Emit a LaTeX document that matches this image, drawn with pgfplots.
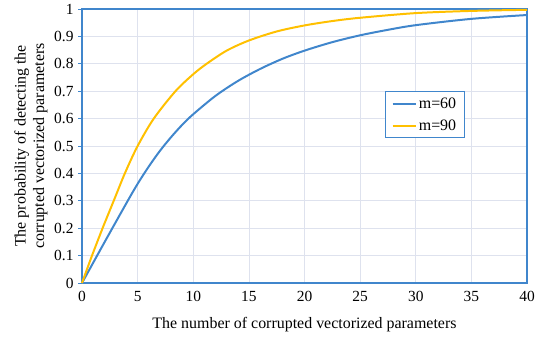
\documentclass[border=0pt]{standalone}
\usepackage{pgfplots}
\pgfplotsset{compat=1.18}
\usepackage{fontspec}
\setmainfont{Liberation Serif}
\definecolor{cblue}{RGB}{64,134,204}
\definecolor{cyel}{RGB}{255,192,0}
\definecolor{cgrid}{RGB}{222,226,238}
\begin{document}
\begin{tikzpicture}
\begin{axis}[
  scale only axis,
  width=445bp, height=274bp,
  xmin=0, xmax=40, ymin=0, ymax=1,
  clip=false,
  xtick={0,5,...,40},
  ytick={0,0.1,...,1},
  yticklabels={0,0.1,0.2,0.3,0.4,0.5,0.6,0.7,0.8,0.9,1},
  /pgf/number format/assume math mode=true,
  grid=major,
  major grid style={cgrid, line width=0.6pt},
  axis line style={cblue, line width=1.1pt},
  xtick style={draw=none},
  ytick style={draw=cblue, line width=0.8pt},
  ytick pos=left, tick align=outside, major tick length=4bp,
  tick label style={font=\fontsize{15.5}{17}\selectfont},
  xticklabel style={yshift=-1bp},
  yticklabel style={xshift=-1bp},
  label style={font=\fontsize{16}{18.5}\selectfont},
  xlabel={The number of corrupted vectorized parameters},
  ylabel={The probability of detecting the\\corrupted vectorized parameters},
  ylabel style={align=center, at={(axis description cs:-0.1146,0.5)}, anchor=center},
  xlabel style={at={(axis description cs:0.5,-0.153)}, anchor=center},
  legend style={at={(axis description cs:0.681,0.700)}, anchor=north west, draw=cblue, font=\fontsize{16}{18}\selectfont, row sep=6pt, inner xsep=6pt, inner ysep=4pt, line width=0.8pt},
  legend image code/.code={\draw[#1, line width=2.2pt] (0cm,0cm) -- (0.82cm,0cm);},
  legend cell align=left,
]
\addplot[cblue, line width=2pt, smooth] coordinates {
(0,0) (2,0.147) (4,0.292) (5,0.362) (6,0.425) (7,0.482) (8,0.532) (9,0.577) (10,0.616) (12,0.683) (14,0.737) (16,0.781) (18,0.818) (20,0.848) (22.5,0.879) (25,0.904) (27.5,0.924) (30,0.941) (35,0.964) (40,0.978)};
\addlegendentry{m=60}
\addplot[cyel, line width=2pt, smooth] coordinates {
(0,0) (0.9,0.1) (1.85,0.2) (2.85,0.3) (3.85,0.4) (5.0,0.5) (6.45,0.6) (8.4,0.7) (10,0.762) (11.2,0.8) (13,0.848) (15,0.885) (17.5,0.918) (20,0.94) (22.5,0.956) (25,0.968) (30,0.985) (35,0.993) (40,0.997)};
\addlegendentry{m=90}
\coordinate (bl) at (axis description cs:-0.1843,-0.2153);
\coordinate (tr) at (axis description cs:1.04494,1.03285);
\end{axis}
\pgfresetboundingbox
\useasboundingbox (bl) rectangle (tr);
\end{tikzpicture}
\end{document}
